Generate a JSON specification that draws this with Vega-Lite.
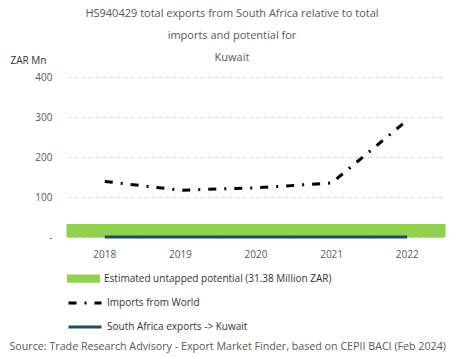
{
  "$schema": "https://vega.github.io/schema/vega-lite/v6.json",
  "autosize": {"type": "none"},
  "width": 378,
  "height": 160,
  "padding": {"left": 67, "top": 77, "right": 20, "bottom": 122},
  "background": "white",
  "config": {
    "font": "Open Sans",
    "view": {"stroke": null}
  },
  "title": {
    "text": ["HS940429 total exports from South Africa relative to total", "imports and potential for", "Kuwait"],
    "fontSize": 11,
    "fontWeight": "normal",
    "color": "#595959",
    "lineHeight": 22,
    "anchor": "middle",
    "dx": -24,
    "offset": -8
  },
  "datasets": {
    "potential": [
      {"year": "2018", "value": 31.38, "series": "Estimated untapped potential (31.38 Million ZAR)"},
      {"year": "2019", "value": 31.38, "series": "Estimated untapped potential (31.38 Million ZAR)"},
      {"year": "2020", "value": 31.38, "series": "Estimated untapped potential (31.38 Million ZAR)"},
      {"year": "2021", "value": 31.38, "series": "Estimated untapped potential (31.38 Million ZAR)"},
      {"year": "2022", "value": 31.38, "series": "Estimated untapped potential (31.38 Million ZAR)"}
    ],
    "lines": [
      {"year": "2018", "value": 139, "series": "Imports from World"},
      {"year": "2019", "value": 117, "series": "Imports from World"},
      {"year": "2020", "value": 123, "series": "Imports from World"},
      {"year": "2021", "value": 135, "series": "Imports from World"},
      {"year": "2022", "value": 292, "series": "Imports from World"},
      {"year": "2018", "value": 0, "series": "South Africa exports -> Kuwait"},
      {"year": "2019", "value": 0, "series": "South Africa exports -> Kuwait"},
      {"year": "2020", "value": 0, "series": "South Africa exports -> Kuwait"},
      {"year": "2021", "value": 0, "series": "South Africa exports -> Kuwait"},
      {"year": "2022", "value": 0, "series": "South Africa exports -> Kuwait"}
    ]
  },
  "encoding": {
    "x": {
      "field": "year",
      "type": "ordinal",
      "scale": {"paddingInner": 0, "paddingOuter": 0},
      "axis": {
        "title": "Source: Trade Research Advisory - Export Market Finder, based on CEPII BACI (Feb 2024)",
        "titleFontSize": 10.7,
        "titleFontWeight": "normal",
        "titleColor": "#595959",
        "titleAnchor": "start",
        "titleX": -58,
        "titleY": 104,
        "titleLimit": 0,
        "labelAngle": 0,
        "labelFontSize": 10,
        "labelColor": "#595959",
        "labelPadding": 12,
        "domain": false,
        "ticks": false
      }
    },
    "y": {
      "field": "value",
      "type": "quantitative",
      "scale": {"domain": [0, 400]},
      "axis": {
        "title": "ZAR Mn",
        "titleAngle": 0,
        "titleAlign": "left",
        "titleBaseline": "middle",
        "titleX": -57,
        "titleY": -17,
        "titleFontSize": 10,
        "titleFontWeight": "normal",
        "titleColor": "#333333",
        "values": [0, 100, 200, 300, 400],
        "labelExpr": "datum.value == 0 ? '-' : datum.label",
        "labelFontSize": 10,
        "labelColor": "#595959",
        "labelPadding": 15,
        "domain": false,
        "ticks": false,
        "gridColor": "#d9d9d9",
        "gridDash": [4, 3],
        "gridWidth": 1
      }
    }
  },
  "layer": [
    {
      "data": {"name": "potential"},
      "mark": {"type": "bar", "stroke": "#92d050", "strokeWidth": 1},
      "encoding": {
        "fill": {
          "field": "series",
          "type": "nominal",
          "scale": {"range": ["#92d050"]},
          "legend": {
            "orient": "none",
            "legendX": 0,
            "legendY": 185,
            "title": null,
            "symbolType": "M-1,-0.25H1V0.25H-1Z",
            "symbolSize": 1089,
            "symbolStrokeWidth": 0,
            "labelFontSize": 10,
            "labelColor": "#333333",
            "labelOffset": 4,
            "labelLimit": 0
          }
        }
      }
    },
    {
      "data": {"name": "lines"},
      "mark": {"type": "line", "strokeWidth": 3},
      "encoding": {
        "stroke": {
          "field": "series",
          "type": "nominal",
          "scale": {"domain": ["Imports from World", "South Africa exports -> Kuwait"], "range": ["#000000", "#1b4f5f"]},
          "legend": {
            "orient": "none",
            "legendX": 0,
            "legendY": 208,
            "title": null,
            "symbolType": "stroke",
            "symbolSize": 1089,
            "symbolStrokeWidth": 3,
            "labelFontSize": 10,
            "labelColor": "#333333",
            "labelOffset": 4,
            "labelLimit": 0,
            "rowPadding": -9
          }
        },
        "strokeDash": {
          "field": "series",
          "type": "nominal",
          "scale": {"domain": ["Imports from World", "South Africa exports -> Kuwait"], "range": [[8, 8, 2, 8], [1, 0]]},
          "legend": null
        }
      }
    }
  ]
}
